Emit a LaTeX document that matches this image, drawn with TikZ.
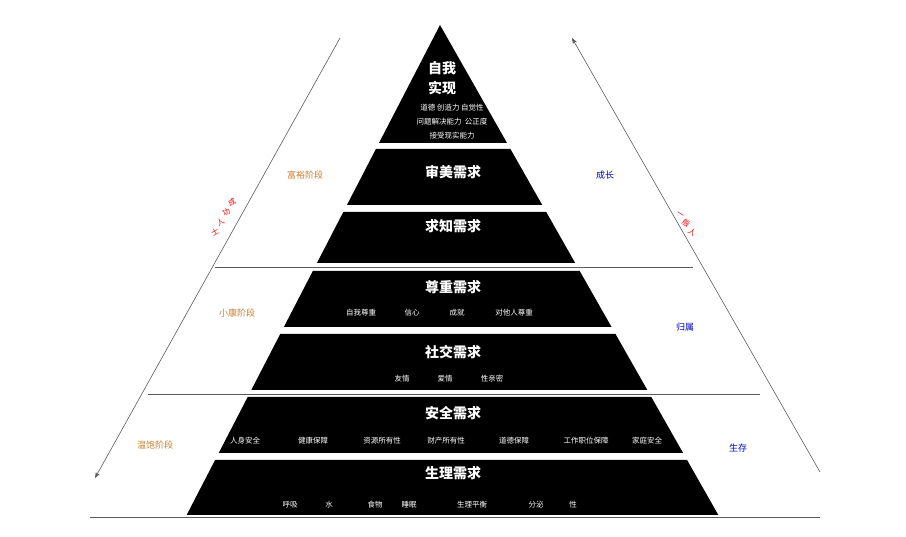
\documentclass[tikz,border=0pt]{standalone}
\usepackage{fontspec}
\setmainfont{Noto Sans CJK SC}
\usetikzlibrary{arrows.meta}
\begin{document}
\begin{tikzpicture}[x=1pt,y=-1pt,
  ttl/.style={text=white,font=\bfseries\fontsize{14}{16}\selectfont},
  sub/.style={text=white,font=\fontsize{7.5}{9}\selectfont},
  stage/.style={text=brown!80!orange,font=\fontsize{9}{11}\selectfont},
  growlbl/.style={text=blue!75!black,font=\fontsize{9}{11}\selectfont},
  redc/.style={text=red,font=\fontsize{7.5}{9}\selectfont,inner sep=0pt},
  guide/.style={draw=gray!70!black,line width=0.6pt}]
\useasboundingbox (0,0) rectangle (906,537);
\newcommand{\band}[2]{\fill (({440-0.517*(#1-25)},#1) -- ({440+0.568*(#1-25)},#1) -- ({440+0.568*(#2-25)},#2) -- ({440-0.517*(#2-25)},#2) -- cycle;}
\fill (440,25) -- ({440+0.568*118},143) -- ({440-0.517*118},143) -- cycle;
\band{149}{205}\band{212}{263}\band{271}{327}\band{334}{390}\band{397}{453}\band{460}{515}
% guides
\coordinate (l1) at (215,267); \coordinate (r1) at (693,267);
\coordinate (l2) at (148,394); \coordinate (r2) at (760,394);
\coordinate (l3) at (90,517); \coordinate (r3) at (820,517);
\draw[guide] (l1) -- (r1); \draw[guide] (l2) -- (r2); \draw[guide] (l3) -- (r3);
\coordinate (la) at (340,38); \coordinate (lb) at (95,478);
\coordinate (ra) at (820,472); \coordinate (rb) at (572,38);
\draw[guide,-{Stealth[length=6pt]}] (la) -- (lb);
\draw[guide,-{Stealth[length=6pt]}] (ra) -- (rb);
% top
\node[ttl] (t1) at (442,68) {自我};
\node[ttl] (t2) at (442,88) {实现};
\node[sub] (s1) at (452,108) {道德\ 创造力\ 自觉性};
\node[sub] (s2) at (452,122) {问题解决能力\ \ 公正度};
\node[sub] (s3) at (452,136) {接受现实能力};
\node[ttl] (a) at (453,172) {审美需求};
\node[ttl] (b) at (453,226) {求知需求};
\node[ttl] (c) at (453,287) {尊重需求};
\node[ttl] (d) at (453,352) {社交需求};
\node[ttl] (e) at (453,413) {安全需求};
\node[ttl] (f) at (453,473) {生理需求};
\foreach \x/\t in {361/自我尊重,412/信心,457/成就,514/对他人尊重} \node[sub] at (\x,313) {\t};
\foreach \x/\t in {402/友情,445/爱情,492/性亲密} \node[sub] at (\x,379) {\t};
\foreach \x/\t in {245/人身安全,313/健康保障,382/资源所有性,446/财产所有性,514/道德保障,586/工作职位保障,647/家庭安全} \node[sub] at (\x,441) {\t};
\foreach \x/\t in {290/呼吸,329/水,375/食物,409/睡眠,472/生理平衡,536/分泌,573/性} \node[sub] at (\x,505) {\t};
% side labels
\node[stage] (g1) at (305,175) {富裕阶段};
\node[stage] (g2) at (237,313) {小康阶段};
\node[stage] (g3) at (155,445) {温饱阶段};
\node[growlbl] (h1) at (605,175) {成长};
\node[growlbl] (h2) at (685,327) {归属};
\node[growlbl] (h3) at (738,448) {生存};
\foreach \i/\c in {0/成,1/功,2/人,3/士} \node[redc,rotate=29] at ({232-5.7*\i},{202+10*\i}) {\c};
\foreach \i/\c in {0/一,1/般,2/人} \node[redc,rotate=-33] at ({680+6*\i},{215+8.5*\i}) {\c};
\end{tikzpicture}
\end{document}
